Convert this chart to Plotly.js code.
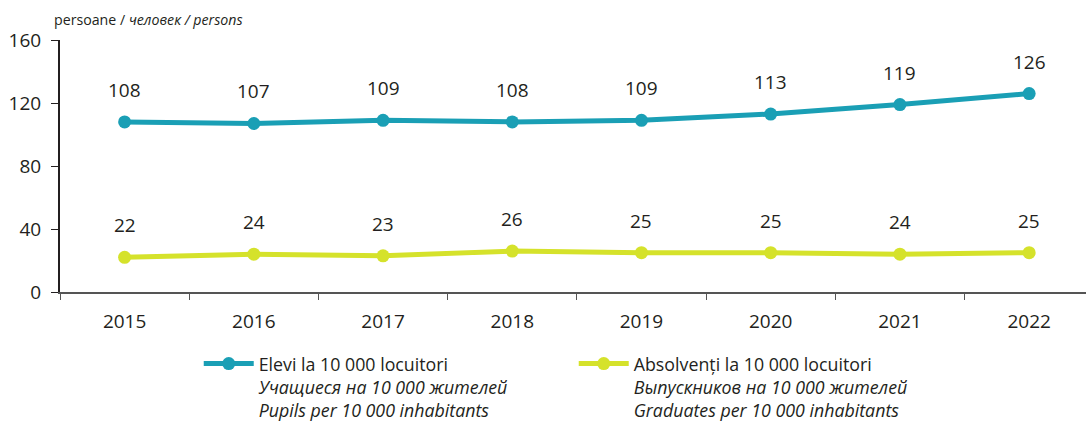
<!DOCTYPE html>
<html><head><meta charset="utf-8">
<script src="https://cdn.plot.ly/plotly-3.0.1.min.js"></script>
<style>html,body{margin:0;padding:0;background:#fff}</style>
</head><body>
<div id="chart" style="width:1086px;height:425px"></div>
<script>
const years = ["2015","2016","2017","2018","2019","2020","2021","2022"];
const pupils = [108,107,109,108,109,113,119,126];
const graduates = [22,24,23,26,25,25,24,25];
const pupilsName = "Elevi la 10 000 locuitori<br><i>Учащиеся на 10 000 жителей</i><br><i>Pupils per 10 000 inhabitants</i>";
const gradsName = "Absolvenți la 10 000 locuitori<br><i>Выпускников на 10 000 жителей</i><br><i>Graduates per 10 000 inhabitants</i>";
const unitLabel = "persoane / <i>человек / persons</i>";
const yTicks = [0,40,80,120,160];

const teal = "#1a9fb5", lime = "#d5e22b", txt = "#231f20";
const font = "Open Sans";

const traces = [
  {x: years, y: pupils, name: pupilsName, type: "scatter", mode: "lines+markers",
   line: {color: teal, width: 5}, marker: {color: teal, size: 13}},
  {x: years, y: graduates, name: gradsName, type: "scatter", mode: "lines+markers",
   line: {color: lime, width: 5}, marker: {color: lime, size: 13}}
];

const annotations = [];
years.forEach((yr, i) => {
  annotations.push({x: i, y: pupils[i], xref: "x", yref: "y", text: String(pupils[i]), showarrow: false,
    yshift: 32, font: {size: 19, color: txt, family: font}});
  annotations.push({x: i, y: graduates[i], xref: "x", yref: "y", text: String(graduates[i]), showarrow: false,
    yshift: 32, font: {size: 19, color: txt, family: font}});
});
annotations.push({xref: "paper", yref: "paper", x: -0.008, y: 1.0, yshift: 21, xanchor: "left",
  yanchor: "middle", text: unitLabel, showarrow: false, font: {size: 14.2, color: txt, family: font}});

const layout = {
  width: 1086, height: 425,
  margin: {l: 60, r: 0, t: 40, b: 133},
  paper_bgcolor: "#fff", plot_bgcolor: "#fff",
  font: {family: font, color: txt, size: 19},
  showlegend: true,
  legend: {orientation: "h", xref: "container", yref: "container", x: 0.183, y: 0.187,
    xanchor: "left", yanchor: "top",
    font: {size: 17.8, color: txt, family: font}, valign: "top", itemwidth: 50,
    entrywidth: 310, traceorder: "normal"},
  xaxis: {type: "category", range: [-0.5, 7.44], showgrid: false, zeroline: false,
    showline: true, linecolor: "#555", linewidth: 1.5, ticks: "outside", tickson: "boundaries",
    ticklen: 6, tickcolor: "#555", tickfont: {size: 19, color: txt, family: font},
    ticklabelstandoff: 12, fixedrange: true},
  yaxis: {range: [0, 160], tickvals: yTicks, showgrid: false, zeroline: false,
    showline: true, linecolor: txt, linewidth: 2, ticks: "outside", ticklen: 7,
    tickcolor: txt, tickfont: {size: 19, color: txt, family: font},
    ticklabelstandoff: 6, fixedrange: true},
  annotations: annotations
};

Plotly.newPlot("chart", traces, layout, {displayModeBar: false, staticPlot: true});
</script>
</body></html>
